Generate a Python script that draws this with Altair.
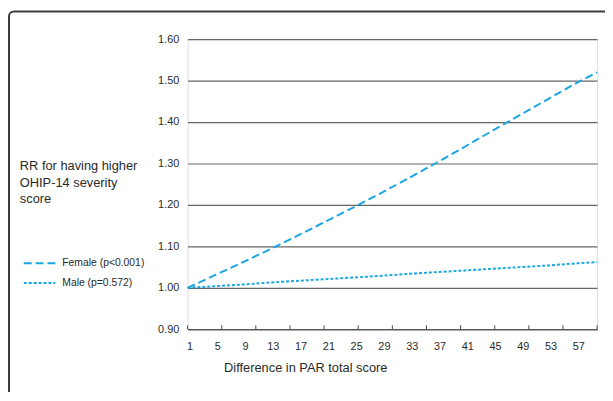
import altair as alt
import pandas as pd

# ---- data ----
x_points = [1, 5, 9, 13, 17, 21, 25, 29, 33, 37, 41, 45, 49, 53, 57, 60]
female_rr = [1.000, 1.031, 1.062, 1.094, 1.127, 1.161, 1.195, 1.230, 1.266,
             1.303, 1.341, 1.380, 1.418, 1.456, 1.494, 1.520]
male_rr = [1.000, 1.004, 1.008, 1.013, 1.017, 1.021, 1.025, 1.029, 1.034,
           1.038, 1.042, 1.046, 1.050, 1.054, 1.059, 1.062]
series_labels = ["Female (p<0.001)", "Male (p=0.572)"]
x_label_values = [1, 5, 9, 13, 17, 21, 25, 29, 33, 37, 41, 45, 49, 53, 57]
x_tick_positions = [1, 5.92, 10.83, 15.75, 20.67, 25.58, 30.5, 35.42, 40.33,
                    45.25, 50.17, 55.08, 60]
y_tick_values = [0.90, 1.00, 1.10, 1.20, 1.30, 1.40, 1.50, 1.60]
y_title_lines = ["RR for having higher", "OHIP-14 severity", "score"]
x_title = "Difference in PAR total score"

BLUE = "#18a6e3"
TXT = "#2a2a2a"
FONT = "Liberation Sans"

W, H = 415, 294

female_df = pd.DataFrame({"x": x_points, "rr": female_rr})
male_df = pd.DataFrame({"x": x_points, "rr": male_rr})
ticks_df = pd.DataFrame({"x": x_tick_positions})

xscale = alt.Scale(domain=[1, 60], nice=False, zero=False)
yscale = alt.Scale(domain=[0.9, 1.6], nice=False, zero=False)

xaxis = alt.Axis(values=x_label_values, ticks=False, tickSize=0, grid=False,
                 domainColor="#444444", domainWidth=1.2,
                 labelFontSize=11, labelColor=TXT, labelFont=FONT,
                 labelPadding=12, labelOffset=2, title=None, labelFlush=False,
                 labelOverlap=False, labelBound=False)
yaxis = alt.Axis(values=y_tick_values, ticks=False, tickSize=0, domain=False,
                 grid=True, gridColor="#666666", gridWidth=1.2,
                 labelFontSize=11, labelColor=TXT, labelFont=FONT,
                 labelPadding=9, format=".2f", title=None, labelOverlap=False)

female = alt.Chart(female_df).mark_line(
    color=BLUE, strokeWidth=2, strokeDash=[8, 4]
).encode(x=alt.X("x:Q", scale=xscale, axis=xaxis),
         y=alt.Y("rr:Q", scale=yscale, axis=yaxis))

male = alt.Chart(male_df).mark_line(
    color=BLUE, strokeWidth=2, strokeDash=[3, 2]
).encode(x=alt.X("x:Q", scale=xscale, axis=xaxis),
         y=alt.Y("rr:Q", scale=yscale, axis=yaxis))

ticks = alt.Chart(ticks_df).mark_rule(color="#444444", strokeWidth=1).encode(
    x=alt.X("x:Q", scale=xscale, axis=xaxis), y=alt.value(H), y2=alt.value(H - 4))

one = pd.DataFrame({"a": [0]})

frame = alt.Chart(one).mark_rect(
    fill=None, fillOpacity=0, stroke="#3a3a3a", strokeWidth=2, cornerRadius=5
).encode(x=alt.value(-181), x2=alt.value(640), y=alt.value(-28), y2=alt.value(420))

ytitle = alt.Chart(one).mark_text(
    align="left", baseline="alphabetic", fontSize=13, font=FONT, color=TXT,
    lineHeight=16.5
).encode(x=alt.value(-170), y=alt.value(133), text=alt.value(y_title_lines))

xtitle = alt.Chart(one).mark_text(
    align="left", baseline="middle", fontSize=13, font=FONT, color=TXT
).encode(x=alt.value(37), y=alt.value(333), text=alt.value(x_title))

leg_f_line = alt.Chart(one).mark_rule(color=BLUE, strokeWidth=2, strokeDash=[8, 4]).encode(
    x=alt.value(-166), x2=alt.value(-134), y=alt.value(227))
leg_m_line = alt.Chart(one).mark_rule(color=BLUE, strokeWidth=2, strokeDash=[3, 2]).encode(
    x=alt.value(-166), x2=alt.value(-134), y=alt.value(247))
leg_f_txt = alt.Chart(one).mark_text(
    align="left", baseline="middle", fontSize=10.5, font=FONT, color=TXT
).encode(x=alt.value(-127), y=alt.value(227), text=alt.value(series_labels[0]))
leg_m_txt = alt.Chart(one).mark_text(
    align="left", baseline="middle", fontSize=10.5, font=FONT, color=TXT
).encode(x=alt.value(-127), y=alt.value(247), text=alt.value(series_labels[1]))

chart = alt.layer(
    frame, female, male, ticks, ytitle, xtitle,
    leg_f_line, leg_m_line, leg_f_txt, leg_m_txt
).properties(
    width=W, height=H,
    autosize=alt.AutoSizeParams(type="none"),
    padding={"left": 182, "top": 29, "right": 8, "bottom": 61},
).configure_view(strokeWidth=0).configure(background="white").configure_axis(
    labelOverlap=False)

chart.save("out.html", embed_options={"renderer": "svg", "actions": False})
